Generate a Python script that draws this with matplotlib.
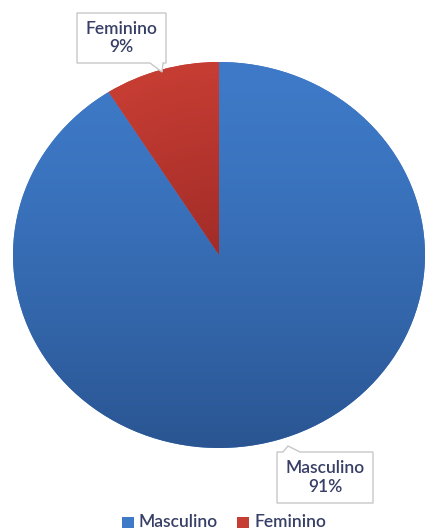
import numpy as np
import matplotlib.pyplot as plt
from matplotlib.colors import to_rgb
from matplotlib.patches import Polygon, Rectangle

# datos del grafico
categorias = ["Masculino", "Feminino"]
porcentajes = [91, 9]
colores_claros = ["#3E7AC8", "#C63D33"]
colores_oscuros = ["#2A5592", "#A22C28"]

plt.rcParams['font.family'] = ['Lato', 'DejaVu Sans']

W, H = 430, 530
fig = plt.figure(figsize=(W / 100, H / 100), dpi=100)

# ejes en pixeles (la torta es algo eliptica)
izq, der, arr, aba = 13, 425, 62, 448
ax = fig.add_axes([izq / W, 1 - aba / H, (der - izq) / W, (aba - arr) / H])

cunas, _ = ax.pie(porcentajes, colors=colores_claros, startangle=90,
                  counterclock=False, radius=1,
                  wedgeprops=dict(linewidth=0))

# degradado dentro de cada porcion
yy, xx = np.mgrid[1:-1:300j, -1:1:300j]
rr = np.clip(np.sqrt(xx ** 2 + yy ** 2), 0, 1)
for i, cuna in enumerate(cunas):
    c1 = np.array(to_rgb(colores_claros[i]))
    c2 = np.array(to_rgb(colores_oscuros[i]))
    if i == 0:
        t = np.clip((1 - yy) / 2, 0, 1) ** 1.4  # mas oscuro abajo
    else:
        t = 1 - rr  # mas oscuro hacia el centro
    img = c1[None, None, :] * (1 - t[..., None]) + c2[None, None, :] * t[..., None]
    im = ax.imshow(img, extent=(-1, 1, -1, 1), aspect='auto', zorder=2)
    im.set_clip_path(cuna)
ax.set_xlim(-1, 1)
ax.set_ylim(-1, 1)
ax.set_aspect('auto')
ax.axis('off')


def px(x, y):
    return (x / W, 1 - y / H)


def globo(x0, y0, x1, y1, punta, base_a, base_b, lado, texto):
    # recuadro del rotulo con su piquito
    if lado == 'abajo':
        pts = [(x0, y0), (x1, y0), (x1, y1), (base_b, y1), punta, (base_a, y1), (x0, y1)]
    else:
        pts = [(x0, y0), (base_a, y0), punta, (base_b, y0), (x1, y0), (x1, y1), (x0, y1)]
    poly = Polygon([px(*p) for p in pts], closed=True, transform=fig.transFigure,
                   facecolor='white', edgecolor='#C8C8C8', linewidth=1.0, zorder=5)
    fig.add_artist(poly)
    cx, cy = px((x0 + x1) / 2, (y0 + y1) / 2)
    fig.text(cx, cy, texto, ha='center', va='center', fontsize=12.5,
             fontweight='semibold', color='#373F66', linespacing=1.2, zorder=6)


globo(77, 13, 166, 63, (162, 72), 150, 163, 'abajo',
      f"{categorias[1]}\n{porcentajes[1]}%")
globo(277, 452, 373, 503, (288, 446), 283, 300, 'arriba',
      f"{categorias[0]}\n{porcentajes[0]}%")

# leyenda: cuadradito pegado al texto
ley_y = 522
posiciones = [(122, 138), (237, 254)]
for i, (xc, xt) in enumerate(posiciones):
    fig.add_artist(Rectangle(px(xc, ley_y + 6), 12 / W, 11 / H,
                             transform=fig.transFigure, facecolor=colores_claros[i],
                             edgecolor='none'))
    fig.text(*px(xt, ley_y), categorias[i], ha='left', va='center',
             fontsize=12.5, fontweight='semibold', color='#373F66')

fig.savefig("out.png", dpi=100)
